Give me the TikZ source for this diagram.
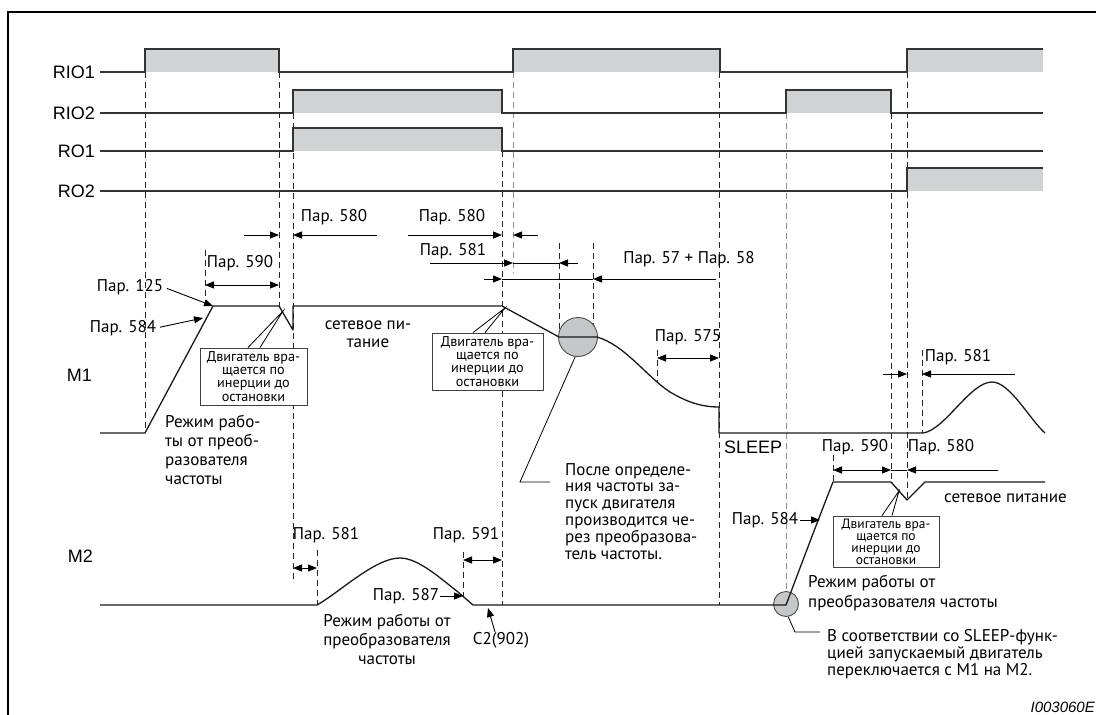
\documentclass[tikz,border=0pt]{standalone}
\usepackage{fontspec}
\setmainfont{PT Sans}
\newfontfamily\arialf{Liberation Sans}
\usetikzlibrary{arrows.meta}
\definecolor{sigfill}{HTML}{D1D2D4}
\definecolor{circfill}{HTML}{C6C7C9}
\newcommand\mytight{\lineskiplimit=-100pt\relax}
\begin{document}
\begin{tikzpicture}[x=1pt,y=-1pt,
  sig/.style={line width=1.5pt, draw=black!80, line join=miter},
  vdash/.style={line width=0.9pt, dash pattern=on 6pt off 4pt, draw=black!85},
  vdashg/.style={vdash, draw=black!45},
  thinl/.style={line width=0.9pt},
  dimline/.style={line width=0.9pt, -{Triangle[length=9pt,width=7pt]}},
  dimboth/.style={line width=0.9pt, {Triangle[length=9pt,width=7pt]}-{Triangle[length=9pt,width=7pt]}},
  curve/.style={line width=1.3pt, draw=black!90, line join=round},
  ptr/.style={line width=0.8pt},
  sigl/.style={font=\arialf\fontsize{18}{20}\selectfont, anchor=east, inner sep=0},
  par/.style={font=\fontsize{17}{19}\selectfont, inner sep=0},
  txt/.style={inner sep=0, align=left},
  cbox/.style={draw=black!75, line width=0.9pt, fill=white, inner sep=1pt, align=center,
    font=\fontsize{14.2}{13.2}\selectfont\mytight},
  cboxs/.style={cbox, font=\fontsize{13.5}{12}\selectfont\mytight},
  circ/.style={circle, draw=black!70, fill=circfill, line width=0.9pt, inner sep=0}
]
\useasboundingbox (0,0) rectangle (1096,715);
% frame
\draw[line width=2.5pt] (8,715) -- (8,12) -- (1096,12);

% signal fills
\fill[sigfill] (145,49) rectangle (279,72);
\fill[sigfill] (513,49) rectangle (720,72);
\fill[sigfill] (907,49) rectangle (1043,72);
\fill[sigfill] (293,90) rectangle (502,113);
\fill[sigfill] (786,90) rectangle (891,113);
\fill[sigfill] (293,128) rectangle (502,151);
\fill[sigfill] (907,168) rectangle (1043,191);

% dashed time lines
\foreach \x/\a/\b in {145/72/433, 205/250/306, 279/72/306, 293/113/583, 317/550/605,
  463/552/596, 502/151/605, 559/243/335, 593/243/337, 657/350/383, 719/72/605,
  833/455/482, 891/113/482, 907/72/500, 922/350/433}
  \draw[vdash] (\x,\a) -- (\x,\b);
\draw[vdashg] (513,72) -- (513,273);
\draw[vdashg] (786,113) -- (786,592);

% signals
\node[sigl] (lrio1) at (95,72) {RIO1};
\node[sigl] (lrio2) at (95,113) {RIO2};
\node[sigl] (lro1) at (95,151) {RO1};
\node[sigl] (lro2) at (95,191) {RO2};
\draw[sig] (100,72) -- (145,72) -- (145,49) -- (279,49) -- (279,72) -- (513,72) -- (513,49)
  -- (720,49) -- (720,72) -- (907,72) -- (907,49) -- (1043,49);
\draw[sig] (100,113) -- (293,113) -- (293,90) -- (502,90) -- (502,113) -- (786,113)
  -- (786,90) -- (891,90) -- (891,113) -- (1043,113);
\draw[sig] (100,151) -- (293,151) -- (293,128) -- (502,128) -- (502,151) -- (1043,151);
\draw[sig] (100,191) -- (907,191) -- (907,168) -- (1043,168);

% motor labels
\node[sigl] (lm1) at (92,375) {M1};
\node[sigl] (lm2) at (93,556) {M2};
\node[sigl, anchor=west] (sleep) at (724,447) {SLEEP};

% circles
\node[circ, minimum size=39pt] (circ1) at (578,337) {};
\node[circ, minimum size=25pt] (circ2) at (786,604) {};

% motor curves
\coordinate (m1top) at (213,306);
\draw[curve] (100,433) -- (145,433) -- (m1top) -- (279,306) -- (293,330) -- (293,306)
  -- (502,306) -- (559,337) -- (597,337) .. controls (625,345) and (648,378) .. (670,392)
  .. controls (690,404) and (705,407) .. (719,407) -- (719,433) -- (923,433)
  .. controls (945,430) and (970,382) .. (992,382) .. controls (1010,382) and (1030,420) .. (1045,433);
\draw[curve] (100,605) -- (317,605) .. controls (340,592) and (375,558) .. (400,558)
  .. controls (418,558) and (440,578) .. (458,592) -- (473,605) -- (786,605)
  .. controls (800,568) and (818,520) .. (833,482) -- (891,482) -- (907,500) -- (925,482) -- (1045,482);

% dimension labels and arrows
\node[par] (p580a) at (334,217) {Пар. 580};
\draw[dimline] (244,235) -- (279,235);
\draw[dimline] (377,235) -- (293,235);

\node[par] (p580b) at (452,217) {Пар. 580};
\draw[dimline] (408,235) -- (502,235);
\draw[dimline] (538,235) -- (513,235);

\node[par] (p581a) at (453,251) {Пар. 581};
\draw[dimline] (430,263) -- (513,263);
\draw[thinl] (513,263) -- (559,263);
\draw[dimline] (578,263) -- (559,263);

\node[par] (p5758) at (689,259) {Пар. 57 + Пар. 58};
\draw[dimline] (484,279) -- (502,279);
\draw[thinl] (502,279) -- (593,279);
\draw[dimline] (716,279) -- (593,279);

\node[par] (p590a) at (240,263) {Пар. 590};
\draw[dimboth] (205,285) -- (279,285);

\node[par] (p125) at (130,287) {Пар. 125};
\draw[dimline, shorten <=4pt] (p125.east) -- (m1top);

\node[par] (p584a) at (123,328) {Пар. 584};
\coordinate (ramp1) at (203,318);
\draw[dimline, shorten <=4pt] (p584a.east) -- (ramp1);

\node[par] (p575) at (688,337) {Пар. 575};
\draw[dimboth] (657,358) -- (719,358);

\node[par] (p581c) at (958,357) {Пар. 581};
\draw[dimline] (883,374) -- (907,374);
\draw[dimline] (1015,374) -- (922,374);

\node[par] (p590b) at (855,447) {Пар. 590};
\node[par] (p580c) at (941,447) {Пар. 580};
\draw[dimboth] (833,470) -- (891,470);
\draw[thinl] (891,470) -- (907,470);
\draw[dimline] (998,470) -- (907,470);

\node[par] (p584b) at (765,520) {Пар. 584};
\coordinate (ramp2) at (820,520);
\draw[dimline, shorten <=2pt] (p584b.east) -- (ramp2);

\node[par] (p581b) at (326,535) {Пар. 581};
\draw[dimboth] (293,568) -- (317,568);

\node[par] (p591) at (466,535) {Пар. 591};
\draw[dimboth] (463,560) -- (502,560);

\node[par] (p587) at (406,596) {Пар. 587};
\coordinate (m2fall) at (463,596);
\draw[dimline, shorten <=1pt] (p587.east) -- (m2fall);

\node[par] (c2) at (501,640) {C2(902)};
\coordinate (m2base) at (488,608);
\draw[dimline] ([xshift=-6pt]c2.north) -- (m2base);

% callout boxes
\coordinate (cp1) at (283,311);
\coordinate (cp2) at (505,308);
\coordinate (cp3) at (899,491);
\node[cbox, minimum width=107pt, minimum height=57pt] (cb1) at (253.5,376.5)
  {Двигатель вра-\\щается по\\инерции до\\остановки};
\draw[ptr] ([xshift=-5.5pt]cb1.north) -- (cp1) -- ([xshift=6.5pt]cb1.north);
\node[cbox, minimum width=111pt, minimum height=57pt] (cb2) at (487.5,361.5)
  {Двигатель вра-\\щается по\\инерции до\\остановки};
\draw[ptr] ([xshift=-14.5pt]cb2.north) -- (cp2) -- ([xshift=-2.5pt]cb2.north);
\node[cboxs, minimum width=106pt, minimum height=51pt] (cb3) at (886,541.5)
  {Двигатель вра-\\щается по\\инерции до\\остановки};
\draw[ptr] ([xshift=-4pt]cb3.north) -- (cp3) -- ([xshift=6pt]cb3.north);

% texts
\node[txt, anchor=north west, font=\fontsize{17}{19}\selectfont\mytight] (t1) at (165,415)
  {Режим рабо-\\ты от преоб-\\разователя\\частоты};
\node[txt, align=center, font=\fontsize{17}{18}\selectfont\mytight] (t6) at (368,334)
  {сетевое пи-\\тание};
\node[txt, anchor=north west, font=\fontsize{17}{16.8}\selectfont\mytight] (t2) at (565,463)
  {После определе-\\ния частоты за-\\пуск двигателя\\производится че-\\рез преобразова-\\тель частоты.};
\node[txt, align=center, anchor=north, font=\fontsize{17}{19}\selectfont\mytight] (t3) at (387,614)
  {Режим работы от\\преобразователя\\частоты};
\node[txt, anchor=north west, font=\fontsize{17}{20}\selectfont\mytight] (t4) at (808,575)
  {Режим работы от\\преобразователя частоты};
\node[txt, anchor=north west, font=\fontsize{17}{17}\selectfont\mytight] (t5) at (827,629)
  {В соответствии со SLEEP-функ-\\цией запускаемый двигатель\\переключается с M1 на M2.};
\node[txt, anchor=west, font=\fontsize{17}{19}\selectfont] (t7) at (944,498) {сетевое питание};

% circle pointers
\coordinate (cpa) at (520,482);
\coordinate (cpb) at (550,482);
\draw[ptr] (circ1.262) -- (cpa) -- (cpb);
\coordinate (cpc) at (795,632);
\coordinate (cpd) at (820,632);
\draw[ptr] (circ2.280) -- (cpc) -- (cpd);

\node[font=\arialf\itshape\fontsize{15}{17}\selectfont, anchor=east, inner sep=0] (code) at (1095,707) {I003060E};
\end{tikzpicture}
\end{document}
